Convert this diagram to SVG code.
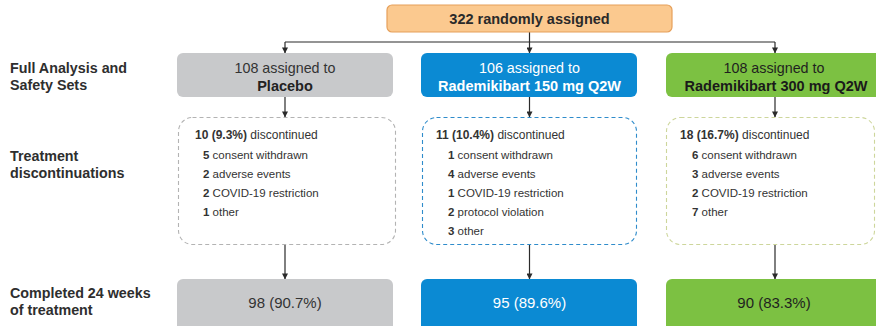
<svg xmlns="http://www.w3.org/2000/svg" width="876" height="326" viewBox="0 0 876 326">
  <defs>
    <marker id="arrow" viewBox="0 0 8 8" refX="7.5" refY="4" markerWidth="6" markerHeight="6" markerUnits="userSpaceOnUse" orient="auto">
      <path d="M0,0 L8,4 L0,8 z" fill="#2b2b2b"/>
    </marker>
    <style>
      text { font-family: "Liberation Sans", Arial, sans-serif; fill: #333; }
      .row { font-size: 14.3px; font-weight: bold; fill: #2e2e2e; }
      .t1 { font-size: 14.3px; text-anchor: middle; }
      .t2 { font-size: 14.5px; font-weight: bold; text-anchor: middle; }
      .hd { font-size: 12px; }
      .it { font-size: 11.5px; }
      .b { font-weight: bold; }
      .fin { font-size: 15px; text-anchor: middle; }
      .gray { fill: #c8c9cb; }
      .blue { fill: #0b8ad3; }
      .green { fill: #7cc142; }
      .dash { fill: #fff; stroke-width: 1.1; stroke-dasharray: 4 3; }
      .edge { fill: none; stroke: #2b2b2b; stroke-width: 1.2; }
    </style>
  </defs>

  <!-- row labels -->
  <g id="labels">
    <text class="row" x="10" y="73">Full Analysis and</text>
    <text class="row" x="10" y="90">Safety Sets</text>
    <text class="row" x="10" y="161">Treatment</text>
    <text class="row" x="10" y="178">discontinuations</text>
    <text class="row" x="10" y="298">Completed 24 weeks</text>
    <text class="row" x="10" y="315">of treatment</text>
  </g>

  <!-- connectors -->
  <g id="connectors">
    <line class="edge" x1="285" y1="42" x2="775" y2="42"/>
    <line class="edge" x1="529.5" y1="32" x2="529.5" y2="53" marker-end="url(#arrow)"/>
    <line class="edge" x1="285" y1="42" x2="285" y2="53" marker-end="url(#arrow)"/>
    <line class="edge" x1="775" y1="42" x2="775" y2="53" marker-end="url(#arrow)"/>
    <line class="edge" x1="285" y1="97" x2="285" y2="117" marker-end="url(#arrow)"/>
    <line class="edge" x1="529.5" y1="97" x2="529.5" y2="117" marker-end="url(#arrow)"/>
    <line class="edge" x1="775" y1="97" x2="775" y2="117" marker-end="url(#arrow)"/>
    <line class="edge" x1="285" y1="245" x2="285" y2="279" marker-end="url(#arrow)"/>
    <line class="edge" x1="529.5" y1="245" x2="529.5" y2="279" marker-end="url(#arrow)"/>
    <line class="edge" x1="775" y1="245" x2="775" y2="279" marker-end="url(#arrow)"/>
  </g>

  <!-- randomisation -->
  <g id="randomized">
    <rect x="387" y="5" width="285" height="27" rx="5" fill="#fbc98f" stroke="#e6a05b" stroke-width="1.2"/>
    <text x="529.5" y="24" class="t2" style="fill:#2a2a2a">322 randomly assigned</text>
  </g>

  <!-- arm: placebo -->
  <g id="placebo">
    <rect class="gray" x="177" y="53" width="216" height="44" rx="6"/>
    <text class="t1" x="285" y="73">108 assigned to</text>
    <text class="t2" x="285" y="91" style="fill:#222">Placebo</text>
  </g>
  <g id="placebo-disc">
    <rect class="dash" x="178.5" y="117.5" width="217" height="127" rx="14" stroke="#b3b3b3"/>
    <text class="hd" x="195" y="139"><tspan class="b">10 (9.3%)</tspan> discontinued</text>
    <text class="it" x="203" y="159"><tspan class="b">5</tspan> consent withdrawn</text>
    <text class="it" x="203" y="178"><tspan class="b">2</tspan> adverse events</text>
    <text class="it" x="203" y="197"><tspan class="b">2</tspan> COVID-19 restriction</text>
    <text class="it" x="203" y="216"><tspan class="b">1</tspan> other</text>
  </g>
  <g id="placebo-done">
    <rect class="gray" x="177" y="279" width="216" height="54" rx="6"/>
    <text class="fin" x="285" y="308">98 (90.7%)</text>
  </g>

  <!-- arm: 150 mg -->
  <g id="dose150">
    <rect class="blue" x="421" y="53" width="216" height="44" rx="6"/>
    <text class="t1" x="529.5" y="73" style="fill:#fff">106 assigned to</text>
    <text class="t2" x="529.5" y="91" style="fill:#fff">Rademikibart 150 mg Q2W</text>
  </g>
  <g id="dose150-disc">
    <rect class="dash" x="422.5" y="117.5" width="214" height="127" rx="14" stroke="#2f8ccb"/>
    <text class="hd" x="436" y="139"><tspan class="b">11 (10.4%)</tspan> discontinued</text>
    <text class="it" x="448" y="159"><tspan class="b">1</tspan> consent withdrawn</text>
    <text class="it" x="448" y="178"><tspan class="b">4</tspan> adverse events</text>
    <text class="it" x="448" y="197"><tspan class="b">1</tspan> COVID-19 restriction</text>
    <text class="it" x="448" y="216"><tspan class="b">2</tspan> protocol violation</text>
    <text class="it" x="448" y="235"><tspan class="b">3</tspan> other</text>
  </g>
  <g id="dose150-done">
    <rect class="blue" x="421" y="279" width="216" height="54" rx="6"/>
    <text class="fin" x="529.5" y="308" style="fill:#fff">95 (89.6%)</text>
  </g>

  <!-- arm: 300 mg -->
  <g id="dose300">
    <rect class="green" x="666" y="53" width="216" height="44" rx="6"/>
    <text class="t1" x="774" y="73" style="fill:#1f1f1f">108 assigned to</text>
    <text class="t2" x="776" y="91" style="fill:#1a1a1a">Rademikibart 300 mg Q2W</text>
  </g>
  <g id="dose300-disc">
    <rect class="dash" x="666.5" y="117.5" width="208" height="127" rx="14" stroke="#cdd69b"/>
    <text class="hd" x="680" y="139"><tspan class="b">18 (16.7%)</tspan> discontinued</text>
    <text class="it" x="692" y="159"><tspan class="b">6</tspan> consent withdrawn</text>
    <text class="it" x="692" y="178"><tspan class="b">3</tspan> adverse events</text>
    <text class="it" x="692" y="197"><tspan class="b">2</tspan> COVID-19 restriction</text>
    <text class="it" x="692" y="216"><tspan class="b">7</tspan> other</text>
  </g>
  <g id="dose300-done">
    <rect class="green" x="666" y="279" width="216" height="54" rx="6"/>
    <text class="fin" x="774" y="308" style="fill:#1f1f1f">90 (83.3%)</text>
  </g>
</svg>
